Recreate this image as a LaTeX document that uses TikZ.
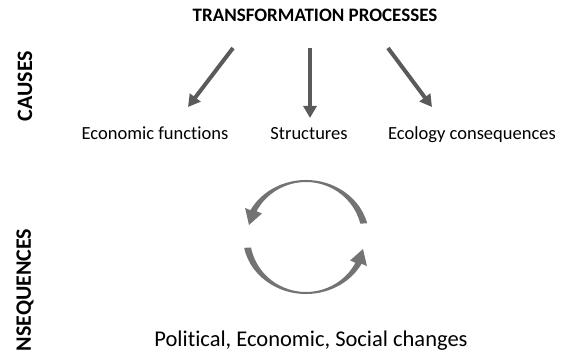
\documentclass[tikz,border=0pt]{standalone}
\usepackage{fontspec}
\setmainfont{Carlito}[Ligatures=NoCommon]
\usetikzlibrary{arrows.meta,calc}
\definecolor{arrowgray}{HTML}{5A5A5A}
\definecolor{cyclegray}{HTML}{737373}

\begin{document}
\begin{tikzpicture}[x=1pt,y=1pt,
 every node/.style={inner sep=0pt,anchor=base},
 item/.style={font=\fontsize{18.5}{20}\selectfont},
 side/.style={font=\fontsize{22}{24}\selectfont\bfseries,rotate=90,anchor=center},
 flow/.style={draw=arrowgray,line width=4pt,-{Triangle[width=13pt,length=12pt]}}]
\useasboundingbox (0,0) rectangle (568,356);
\node[font=\fontsize{19}{21}\selectfont\bfseries] (title) at (315,334) {TRANSFORMATION PROCESSES};
\node[side] (causes) at (25,270) {CAUSES};
\node[side] (conseq) at (25,66) {NSEQUENCES};
\node[item] (econ) at (155,216) {Economic functions};
\node[item] (struct) at (309,216) {Structures};
\node[item] (eco) at (472,216) {Ecology consequences};
\node[font=\fontsize{22.5}{24}\selectfont] (changes) at (311,9) {Political, Economic, Social changes};
% arrow ends
\coordinate (econtop) at (233,308); \coordinate (econend) at (188,249);
\coordinate (structtop) at (310,308); \coordinate (structend) at (310,238);
\coordinate (ecotop) at (388,308); \coordinate (ecoend) at (432,249);
\draw[flow] (econtop)--(econend);
\draw[flow] (structtop)--(structend);
\draw[flow] (ecotop)--(ecoend);
% cycle
\coordinate (c) at (306,119);
\coordinate (tipup) at (249,131);
\coordinate (tipdown) at (363,107);
\fill[cyclegray] ($(c)+(14:63 and 57)$) arc[start angle=14,end angle=152,x radius=63,y radius=57]
 -- ($(c)+(152:69 and 62)$) -- (tipup) -- ($(c)+(152:50 and 50)$) -- ($(c)+(152:56 and 55)$)
 arc[start angle=152,end angle=14,x radius=56,y radius=55] -- cycle;
\fill[cyclegray] ($(c)+(191:63 and 57)$) arc[start angle=191,end angle=332,x radius=63,y radius=57]
 -- ($(c)+(332:69 and 62)$) -- (tipdown) -- ($(c)+(332:50 and 50)$) -- ($(c)+(332:56 and 55)$)
 arc[start angle=332,end angle=191,x radius=56,y radius=55] -- cycle;
\end{tikzpicture}
\end{document}
